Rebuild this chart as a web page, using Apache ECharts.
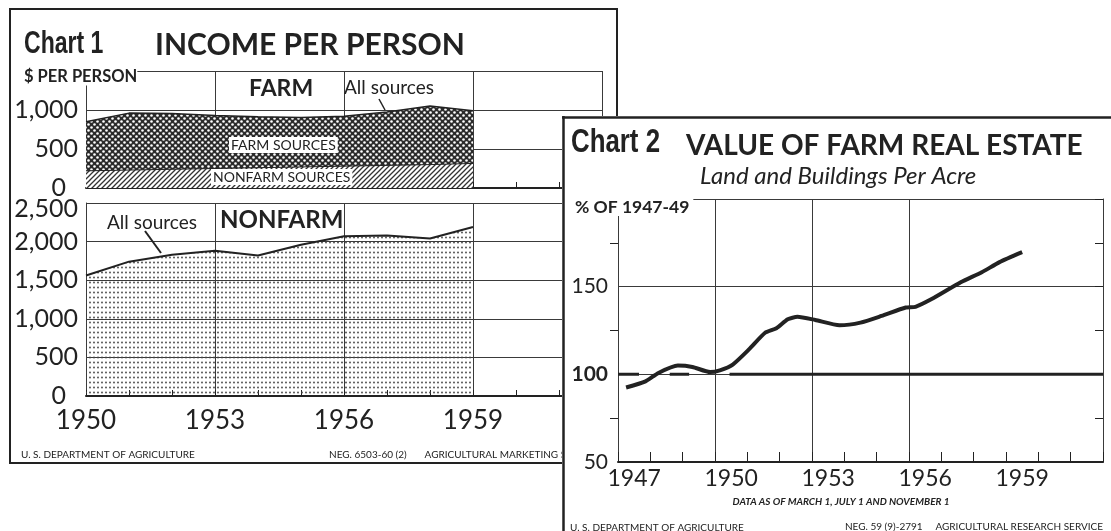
<!DOCTYPE html>
<html>
<head>
<meta charset="utf-8">
<script src="https://cdn.jsdelivr.net/npm/echarts@6/dist/echarts.min.js"></script>
<style>
html, body { margin: 0; padding: 0; background: #fff; }
#c1 { position: absolute; left: 0; top: 0; width: 1111px; height: 531px; }
#c2 { position: absolute; left: 562px; top: 116px; width: 549px; height: 415px; background: #fff; }
</style>
</head>
<body>
<div id="c1"></div>
<div id="c2"></div>
<script>
// chart 1 - income per person
const incomeYears = [1950, 1951, 1952, 1953, 1954, 1955, 1956, 1957, 1958, 1959];
const farmAllSources = [850, 960, 955, 930, 915, 905, 920, 975, 1050, 990];
const farmNonfarmSources = [220, 230, 240, 250, 260, 270, 280, 290, 300, 315];
const nonfarmAllSources = [1560, 1740, 1830, 1880, 1820, 1960, 2070, 2080, 2040, 2190];
const incomeTickYears = [1950, 1953, 1956, 1959];

// chart 2 - value of farm real estate (% of 1947-49)
const realEstateYears = [1947.25, 1947.85, 1948.25, 1948.85, 1949.3, 1949.85, 1950.15, 1950.55, 1951.05, 1951.55,
  1951.9, 1952.25, 1952.55, 1953.1, 1953.85, 1954.5, 1955.15, 1955.9, 1956.2, 1956.7, 1957.6, 1958.25, 1958.8, 1959.5];
const realEstateIndex = [92.5, 96, 100.8, 105, 104.2, 101.3, 102.3, 105.6, 114.2, 123.7,
  126.3, 131.4, 132.8, 131, 128, 129.5, 133.3, 138.1, 138.5, 142.9, 152.5, 158.2, 164, 169.7];
const realEstateTickYears = [1947, 1950, 1953, 1956, 1959];
const baseValue = 100;
const baselineSegments = [[1947, 1947.65], [1948.6, 1949.2], [1950.45, 1962]];

const ink = '#222';
const sans = "Lato, 'Open Sans', sans-serif";
const heavy = "'Liberation Sans', Arial, sans-serif";

function makePattern(w, h, draw) {
  const c = document.createElement('canvas');
  c.width = w; c.height = h;
  draw(c.getContext('2d'));
  return { image: c, repeat: 'repeat' };
}
const hatch = makePattern(5, 5, ctx => {
  ctx.fillStyle = '#fff';
  ctx.fillRect(0, 0, 5, 5);
  ctx.strokeStyle = '#333';
  ctx.lineWidth = 1.3;
  ctx.beginPath();
  ctx.moveTo(0, 5); ctx.lineTo(5, 0);
  ctx.moveTo(-1, 1); ctx.lineTo(1, -1);
  ctx.moveTo(4, 6); ctx.lineTo(6, 4);
  ctx.stroke();
});
const crossHatch = makePattern(6, 6, ctx => {
  ctx.fillStyle = '#2b2b2b';
  ctx.fillRect(0, 0, 6, 6);
  ctx.fillStyle = '#fff';
  [[1.5, 1.5], [4.5, 4.5]].forEach(p => {
    ctx.beginPath(); ctx.arc(p[0], p[1], 1.3, 0, Math.PI * 2); ctx.fill();
  });
});
const dots = makePattern(4, 5, ctx => {
  ctx.fillStyle = '#444';
  ctx.beginPath(); ctx.arc(2, 2.5, 0.9, 0, Math.PI * 2); ctx.fill();
});

const pairs = (xs, ys) => xs.map((x, i) => [x, ys[i]]);
const comma = v => v.toLocaleString('en-US');

function incomeX(gridIndex, showLabels) {
  return {
    type: 'value', gridIndex, min: 1950, max: 1962, interval: 3,
    axisLine: { show: true, lineStyle: { color: ink, width: 2 } },
    axisTick: { show: true, inside: true, length: 6, lineStyle: { color: ink } },
    minorTick: { show: true, splitNumber: 3, length: 6, lineStyle: { color: ink } },
    splitLine: { show: true, lineStyle: { color: '#3a3a3a', width: 1 } },
    axisLabel: {
      show: showLabels, margin: 12, color: ink, fontFamily: sans, fontSize: 26,
      showMaxLabel: false,
      formatter: v => incomeTickYears.includes(v) ? String(v) : ''
    }
  };
}
function incomeY(gridIndex, max, showMax) {
  return {
    type: 'value', gridIndex, min: 0, max, interval: 500,
    axisLine: { show: true, lineStyle: { color: '#3a3a3a', width: 1 } },
    axisTick: { show: false },
    splitLine: { show: true, lineStyle: { color: '#3a3a3a', width: 1 } },
    axisLabel: {
      margin: 8, color: ink, fontFamily: sans, fontSize: 25,
      showMaxLabel: showMax,
      formatter: v => v === 0 ? '{z|0}' : (v === 2500 ? '{t|' + comma(v) + '}' : comma(v)),
      rich: {
        z: { fontFamily: sans, fontSize: 25, color: ink, padding: [0, 12, 0, 0] },
        t: { fontFamily: sans, fontSize: 25, color: ink, padding: [12, 0, 0, 0] }
      }
    }
  };
}

const chart1 = echarts.init(document.getElementById('c1'));
chart1.setOption({
  animation: false,
  backgroundColor: '#fff',
  grid: [
    { left: 86, top: 71, width: 516, height: 117 },
    { left: 86, top: 203, width: 516, height: 193 }
  ],
  xAxis: [incomeX(0, false), incomeX(1, true)],
  yAxis: [incomeY(0, 1500, false), incomeY(1, 2500, true)],
  series: [
    {
      name: 'Farm: all sources', type: 'line', xAxisIndex: 0, yAxisIndex: 0,
      data: pairs(incomeYears, farmAllSources), symbol: 'none',
      lineStyle: { color: ink, width: 1.5 },
      areaStyle: { color: crossHatch, opacity: 1 }
    },
    {
      name: 'Farm: nonfarm sources', type: 'line', xAxisIndex: 0, yAxisIndex: 0,
      data: pairs(incomeYears, farmNonfarmSources), symbol: 'none',
      lineStyle: { color: ink, width: 1 },
      areaStyle: { color: hatch, opacity: 1 }
    },
    {
      name: 'Nonfarm: all sources', type: 'line', xAxisIndex: 1, yAxisIndex: 1,
      data: pairs(incomeYears, nonfarmAllSources), symbol: 'none',
      lineStyle: { color: ink, width: 2 },
      areaStyle: { color: dots, opacity: 1 }
    }
  ],
  graphic: [
    { type: 'rect', z: 100, shape: { x: 10, y: 9, width: 607, height: 454 },
      style: { fill: 'none', stroke: ink, lineWidth: 2 } },
    { type: 'text', z: 100, x: 24, y: 44, scaleX: 0.72, style: { text: 'Chart 1', font: 'bold 32px ' + heavy, fill: ink, verticalAlign: 'middle' } },
    { type: 'text', z: 100, x: 155, y: 45, style: { text: 'INCOME PER PERSON', font: 'bold 30px ' + sans, fill: ink, verticalAlign: 'middle' } },
    { type: 'text', z: 100, x: 24, y: 77, style: { text: '$ PER PERSON', font: 'bold 16.5px ' + sans, fill: ink, verticalAlign: 'middle', backgroundColor: '#fff' } },
    { type: 'text', z: 100, x: 249, y: 89, style: { text: 'FARM', font: 'bold 23px ' + sans, fill: ink, verticalAlign: 'middle' } },
    { type: 'text', z: 100, x: 344, y: 88, style: { text: 'All sources', font: '19px ' + sans, fill: ink, verticalAlign: 'middle' } },
    { type: 'line', z: 100, shape: { x1: 379, y1: 99, x2: 385, y2: 110 }, style: { stroke: ink, lineWidth: 1.5 } },
    { type: 'text', z: 100, x: 229, y: 145, style: { text: 'FARM SOURCES', font: '14px ' + sans, fill: ink, verticalAlign: 'middle', backgroundColor: '#fff', padding: [1, 2] } },
    { type: 'text', z: 100, x: 211, y: 177, style: { text: 'NONFARM SOURCES', font: '14px ' + sans, fill: ink, verticalAlign: 'middle', backgroundColor: '#fff', padding: [1, 2] } },
    { type: 'text', z: 100, x: 220, y: 220, style: { text: 'NONFARM', font: 'bold 24px ' + sans, fill: ink, verticalAlign: 'middle' } },
    { type: 'text', z: 100, x: 107, y: 223, style: { text: 'All sources', font: '19px ' + sans, fill: ink, verticalAlign: 'middle' } },
    { type: 'line', z: 100, shape: { x1: 145, y1: 231, x2: 161, y2: 253 }, style: { stroke: ink, lineWidth: 2 } },
    { type: 'text', z: 100, x: 21, y: 455, style: { text: 'U. S. DEPARTMENT OF AGRICULTURE', font: '10px ' + sans, fill: ink, verticalAlign: 'middle' } },
    { type: 'text', z: 100, x: 329, y: 455, style: { text: 'NEG. 6503-60 (2)       AGRICULTURAL MARKETING SERVICE', font: '10px ' + sans, fill: ink, verticalAlign: 'middle' } }
  ]
});

const chart2 = echarts.init(document.getElementById('c2'));
const gridColor = '#3a3a3a';
chart2.setOption({
  animation: false,
  backgroundColor: '#fff',
  grid: { left: 56, top: 83, width: 485, height: 263 },
  xAxis: {
    type: 'value', min: 1947, max: 1962, interval: 3,
    axisLine: { show: true, lineStyle: { color: ink, width: 2 } },
    axisTick: { show: true, inside: true, length: 10, lineStyle: { color: ink } },
    minorTick: { show: true, splitNumber: 3, length: 10, lineStyle: { color: ink } },
    splitLine: { show: true, lineStyle: { color: [gridColor, gridColor, gridColor, gridColor, 'rgba(0,0,0,0)', gridColor], width: 1 } },
    axisLabel: {
      margin: 5, color: ink, fontFamily: sans, fontSize: 23,
      customValues: realEstateTickYears.map(y => y + 0.5),
      formatter: v => String(Math.floor(v))
    }
  },
  yAxis: [
    {
      type: 'value', min: 50, max: 200, interval: 50, position: 'left',
      axisLine: { show: true, lineStyle: { color: gridColor, width: 1 } },
      axisTick: { show: false },
      minorTick: { show: false },
      splitLine: { show: true, lineStyle: { color: gridColor, width: 1 } },
      axisLabel: {
        margin: 10, color: ink, fontFamily: sans, fontSize: 21,
        formatter: v => v === 200 ? '' : (v === baseValue ? '{b|' + v + '}' : String(v)),
        rich: { b: { fontFamily: sans, fontSize: 21, fontWeight: 'bold', color: ink } }
      }
    },
    {
      type: 'value', min: 50, max: 200, interval: 50, position: 'left',
      axisLine: { show: false },
      axisTick: { show: false },
      minorTick: { show: true, splitNumber: 2, length: 8, lineStyle: { color: ink } },
      splitLine: { show: false },
      axisLabel: { show: false }
    },
    {
      type: 'value', min: 50, max: 200, interval: 50, position: 'right',
      axisLine: { show: true, lineStyle: { color: gridColor, width: 1 } },
      axisTick: { show: true, inside: true, length: 8, lineStyle: { color: ink } },
      minorTick: { show: true, splitNumber: 2, length: 8, lineStyle: { color: ink } },
      splitLine: { show: false },
      axisLabel: { show: false }
    }
  ],
  series: baselineSegments.map(seg => ({
    type: 'line', yAxisIndex: 0, symbol: 'none', silent: true,
    data: seg.map(x => [x, baseValue]),
    lineStyle: { color: ink, width: 3 }
  })).concat([{
    name: 'Value per acre', type: 'line', yAxisIndex: 0, symbol: 'none', smooth: 0.2,
    data: pairs(realEstateYears, realEstateIndex),
    lineStyle: { color: ink, width: 4 }, z: 5
  }]),
  graphic: [
    { type: 'line', z: 100, shape: { x1: 1.5, y1: 0, x2: 1.5, y2: 415 }, style: { stroke: ink, lineWidth: 2.5 } },
    { type: 'line', z: 100, shape: { x1: 0, y1: 1.5, x2: 549, y2: 1.5 }, style: { stroke: ink, lineWidth: 2.5 } },
    { type: 'text', z: 100, x: 9, y: 27, scaleX: 0.76, style: { text: 'Chart 2', font: 'bold 34px ' + heavy, fill: ink, verticalAlign: 'middle' } },
    { type: 'text', z: 100, x: 124, y: 30, style: { text: 'VALUE OF FARM REAL ESTATE', font: 'bold 28px ' + sans, fill: ink, verticalAlign: 'middle' } },
    { type: 'text', z: 100, x: 138, y: 60, style: { text: 'Land and Buildings Per Acre', font: 'italic 24px ' + sans, fill: ink, verticalAlign: 'middle' } },
    { type: 'text', z: 100, x: 13, y: 91, style: { text: '% OF 1947-49', font: 'bold 17.5px ' + sans, fill: ink, verticalAlign: 'middle', backgroundColor: '#fff', padding: [0, 4, 0, 0] } },
    { type: 'text', z: 100, x: 279, y: 386, style: { text: 'DATA AS OF MARCH 1, JULY 1 AND NOVEMBER 1', font: 'italic bold 10px ' + sans, fill: ink, align: 'center', verticalAlign: 'middle' } },
    { type: 'text', z: 100, x: 8, y: 412, style: { text: 'U. S. DEPARTMENT OF AGRICULTURE', font: '10px ' + sans, fill: ink, verticalAlign: 'middle' } },
    { type: 'text', z: 100, x: 541, y: 411, style: { text: 'NEG. 59 (9)-2791     AGRICULTURAL RESEARCH SERVICE', font: '10px ' + sans, fill: ink, align: 'right', verticalAlign: 'middle' } }
  ]
});
</script>
</body>
</html>
